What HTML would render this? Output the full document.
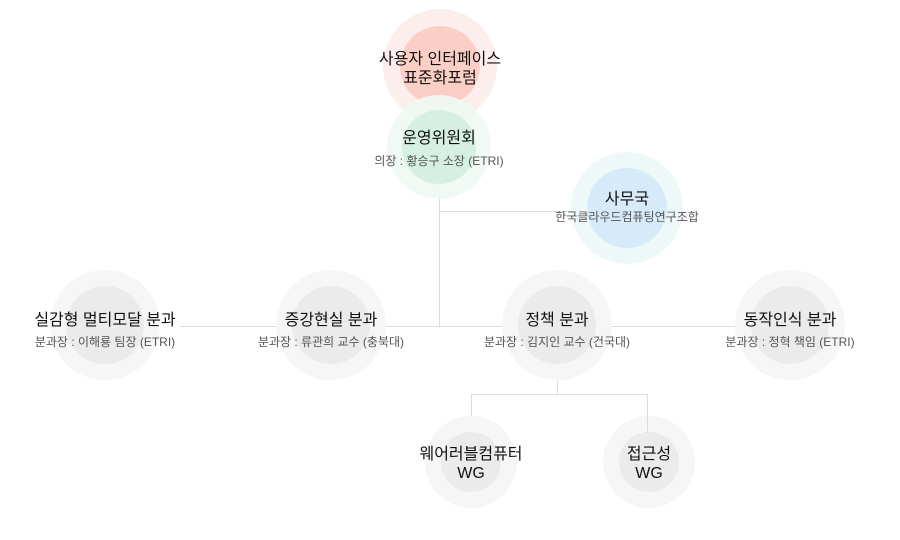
<!DOCTYPE html>
<html><head><meta charset="utf-8"><style>
body{margin:0;background:#fff}
svg{display:block}
text{font-family:"Liberation Sans","Noto Sans CJK KR",sans-serif;text-anchor:middle}
.t{font-size:16px;fill:#111}
.s{font-size:12px;fill:#555}
</style></head><body>
<svg width="900" height="540" viewBox="0 0 900 540">
<g stroke="#dddddd" stroke-width="1" fill="none">
<line x1="439.5" y1="160" x2="439.5" y2="326"/>
<line x1="439" y1="211.5" x2="590" y2="211.5"/>
<line x1="180" y1="326.5" x2="740" y2="326.5"/>
<line x1="557.5" y1="360" x2="557.5" y2="394"/>
<line x1="471.5" y1="394.5" x2="647.5" y2="394.5"/>
<line x1="471.5" y1="394" x2="471.5" y2="421"/>
</g>
<circle cx="440" cy="66" r="57" fill="#fdeeee"/>
<circle cx="440" cy="66" r="40" fill="#fccfc6"/>
<circle cx="439" cy="147" r="52" fill="#eef8f3" fill-opacity="0.9"/>
<circle cx="439" cy="147" r="37" fill="#d5efe3"/>
<circle cx="627" cy="208" r="56" fill="#eef8f8"/>
<circle cx="627" cy="208" r="40" fill="#d6eafa"/>
<g fill="#f6f6f6">
<circle cx="105" cy="325" r="55"/><circle cx="331" cy="325" r="55"/><circle cx="557" cy="325" r="55"/><circle cx="790" cy="325" r="55"/>
<circle cx="471" cy="462" r="46"/><circle cx="649" cy="462" r="46"/>
</g>
<g fill="#ebebeb">
<circle cx="105" cy="325" r="39"/><circle cx="331" cy="325" r="39"/><circle cx="557" cy="325" r="39"/><circle cx="790" cy="325" r="39"/>
<circle cx="471" cy="462" r="30"/><circle cx="649" cy="462" r="30"/>
</g>
<line x1="647.5" y1="394" x2="647.5" y2="433" stroke="#dddddd"/>
<text class="t" x="440" y="64">사용자 인터페이스</text>
<text class="t" x="440" y="83">표준화포럼</text>
<text class="t" x="439" y="143">운영위원회</text>
<text class="s" x="439" y="165">의장 : 황승구 소장 (ETRI)</text>
<text class="t" x="627" y="204">사무국</text>
<text class="s" x="627" y="221">한국클라우드컴퓨팅연구조합</text>
<text class="t" x="105" y="325">실감형 멀티모달 분과</text>
<text class="s" x="105" y="346">분과장 : 이해룡 팀장 (ETRI)</text>
<text class="t" x="331" y="325">증강현실 분과</text>
<text class="s" x="331" y="346">분과장 : 류관희 교수 (충북대)</text>
<text class="t" x="557" y="325">정책 분과</text>
<text class="s" x="557" y="346">분과장 : 김지인 교수 (건국대)</text>
<text class="t" x="790" y="325">동작인식 분과</text>
<text class="s" x="790" y="346">분과장 : 정혁 책임 (ETRI)</text>
<text class="t" x="471" y="459">웨어러블컴퓨터</text>
<text class="t" x="471" y="478">WG</text>
<text class="t" x="649" y="459">접근성</text>
<text class="t" x="649" y="478">WG</text>
</svg>
</body></html>
